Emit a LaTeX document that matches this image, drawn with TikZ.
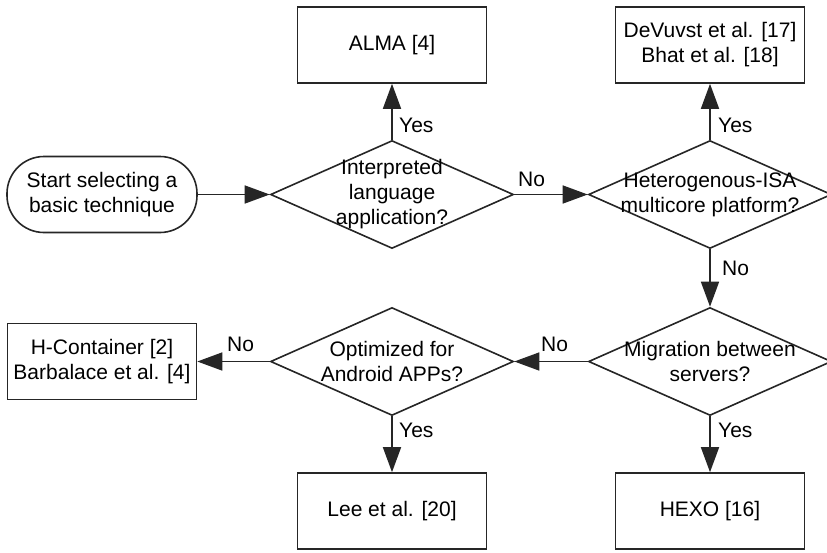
\documentclass[tikz,border=0pt]{standalone}
\usepackage{fontspec}
\setmainfont{Liberation Sans}
\usetikzlibrary{shapes.geometric,arrows.meta}
\begin{document}
\begin{tikzpicture}[x=1pt,y=-1pt,
 every node/.style={font=\fontsize{21}{25}\selectfont},
 line/.style={line width=1.6pt, draw=black!85},
 box/.style={line, rectangle, minimum width=189pt, minimum height=76pt, align=center, inner sep=0pt},
 startbox/.style={box, rounded corners=37pt, minimum width=190pt},
 dec/.style={line, diamond, minimum width=243pt, minimum height=108pt, inner sep=0pt},
 dtext/.style={align=center, inner sep=0pt},
 arr/.style={line, -{Triangle[length=25pt,width=18pt]}},
 lbl/.style={inner sep=0pt, anchor=west}
]
\clip (0,0) rectangle (827,552);
\fill[white] (0,0) rectangle (827,552);

\node[startbox] (start) at (102,194.5) {Start selecting a\\basic technique};
\node[dec] (d1) at (392,194.5) {};
\node[dtext] (t1) at (d1.center) {Interpreted\\language\\application?};
\node[dec] (d2) at (710,194.5) {};
\node[dtext] (t2) at (d2.center) {Heterogenous-ISA\\multicore platform?};
\node[dec] (d3) at (710,361.5) {};
\node[dtext] (t3) at (d3.center) {Migration between\\servers?};
\node[dec] (d4) at (392,361.5) {};
\node[dtext] (t4) at (d4.center) {Optimized for\\Android APPs?};

\node[box] (alma) at (392,45) {ALMA [4]};
\node[box] (devuvst) at (710,45) {DeVuvst et al. [17]\\Bhat et al. [18]};
\node[box] (hcont) at (102,361.5) {H-Container [2]\\Barbalace et al. [4]};
\node[box] (lee) at (392,511) {Lee et al. [20]};
\node[box] (hexo) at (710,511) {HEXO [16]};

\draw[arr] (start) -- (d1);
\draw[arr] (d1) -- (alma);
\draw[arr] (d1) -- (d2);
\draw[arr] (d2) -- (devuvst);
\draw[arr] (d2) -- (d3);
\draw[arr] (d3) -- (hexo);
\draw[arr] (d3) -- (d4);
\draw[arr] (d4) -- (lee);
\draw[arr] (d4) -- (hcont);

\node[lbl] (y1) at (399,125) {Yes};
\node[lbl] (n1) at (518,179) {No};
\node[lbl] (y2) at (718,125) {Yes};
\node[lbl] (n2) at (722,268) {No};
\node[lbl] (n3) at (541,344) {No};
\node[lbl] (n4) at (227,344) {No};
\node[lbl] (y3) at (399,430) {Yes};
\node[lbl] (y4) at (718,430) {Yes};
\end{tikzpicture}
\end{document}
